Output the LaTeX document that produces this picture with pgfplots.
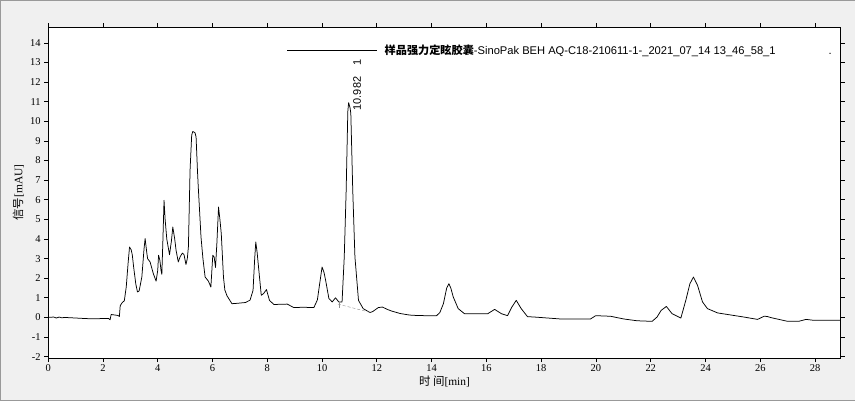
\documentclass[border=0pt]{standalone}
\usepackage{fontspec}
\setmainfont{Liberation Serif}
\setsansfont{Liberation Sans}
\newfontfamily\cjk{Noto Sans CJK SC}
\usepackage{pgfplots}
\pgfplotsset{compat=1.18}

\pgfplotstableread{
t s
0 0.0
0.2 0.02
0.3 -0.03
0.4 0.02
0.5 -0.02
0.6 0.0
1.0 -0.03
1.4 -0.06
1.8 -0.07
2.0 -0.05
2.2 -0.05
2.26 -0.12
2.3 0.15
2.45 0.12
2.55 0.1
2.6 0.05
2.63 0.6
2.7 0.75
2.78 0.85
2.85 1.55
2.92 2.8
2.97 3.59
3.03 3.45
3.07 3.2
3.12 2.57
3.2 1.7
3.26 1.3
3.32 1.35
3.42 2.06
3.5 3.5
3.54 4.02
3.6 3.3
3.63 3.0
3.72 2.83
3.84 2.23
3.94 1.85
4.0 2.4
4.03 3.17
4.08 2.9
4.12 2.4
4.15 2.2
4.19 4.0
4.23 5.97
4.27 5.0
4.33 4.0
4.43 3.2
4.5 3.9
4.55 4.61
4.62 4.0
4.67 3.42
4.75 2.83
4.82 3.1
4.9 3.28
4.96 3.2
5.03 2.7
5.08 3.0
5.12 3.6
5.18 7.5
5.24 9.3
5.28 9.48
5.36 9.42
5.4 9.2
5.45 7.5
5.48 6.65
5.58 4.1
5.65 3.0
5.73 2.06
5.85 1.85
5.94 1.55
6.01 3.17
6.06 3.08
6.11 2.55
6.16 3.8
6.22 5.63
6.27 5.0
6.32 4.27
6.4 2.06
6.45 1.4
6.53 1.1
6.71 0.7
6.9 0.72
7.2 0.76
7.37 0.88
7.48 1.38
7.54 3.0
7.58 3.85
7.63 3.3
7.68 2.57
7.78 1.13
7.86 1.21
7.97 1.42
8.08 0.87
8.24 0.66
8.73 0.68
8.97 0.5
9.3 0.52
9.7 0.5
9.83 0.9
9.9 1.6
10.0 2.57
10.07 2.3
10.13 1.89
10.25 0.96
10.37 0.79
10.49 1.0
10.61 0.79
10.73 0.79
10.81 3.08
10.88 6.48
10.94 10.5
10.97 10.95
11.02 10.7
11.05 10.4
11.12 6.48
11.2 3.08
11.33 0.87
11.5 0.45
11.75 0.25
11.85 0.3
12.05 0.5
12.2 0.53
12.4 0.4
12.53 0.33
12.85 0.2
13.2 0.12
13.45 0.1
13.76 0.09
14.18 0.09
14.3 0.25
14.43 0.7
14.55 1.5
14.63 1.72
14.7 1.5
14.79 1.04
14.97 0.45
15.2 0.19
16.05 0.19
16.3 0.41
16.55 0.19
16.77 0.09
16.93 0.53
17.09 0.87
17.27 0.45
17.5 0.04
17.75 0.02
18.72 -0.08
19.8 -0.08
19.99 0.09
20.53 0.06
21.02 -0.08
21.5 -0.17
22.05 -0.2
22.23 0.02
22.38 0.36
22.57 0.56
22.78 0.19
23.1 -0.03
23.28 0.87
23.43 1.72
23.56 2.06
23.71 1.63
23.89 0.79
24.07 0.45
24.44 0.23
25.4 0.02
25.9 -0.1
26.14 0.06
26.25 0.05
26.39 -0.01
27.0 -0.2
27.4 -0.2
27.67 -0.1
27.97 -0.15
28.94 -0.15
}\signal

\begin{document}
\begin{tikzpicture}[x=1bp,y=1bp]
\draw[draw=black!40, fill=black!6] (0,0) rectangle (855,400);
\begin{axis}[
    at={(48bp,42bp)}, anchor=south west,
    scale only axis,
    width=793bp, height=331bp,
    xmin=0, xmax=28.94,
    ymin=-2.07, ymax=14.8,
    xtick={0,2,...,28},
    ytick={-2,-1,...,14},
    tick align=outside,
    major tick length=4bp,
    tick style={black, line width=0.7bp},
    axis line style={black, line width=0.8bp},
    axis background/.style={fill=white},
    /pgf/number format/assume math mode=true,
    ticklabel style={font=\fontsize{10.5}{12}\selectfont},
    xticklabel style={yshift=1bp},
    xlabel={{\cjk 时 间}[min]},
    xlabel style={at={(axis description cs:0.5,-0.0695)}, anchor=center, font=\fontsize{11.5}{13}\selectfont},
    ylabel={{\cjk 信号}[mAU]},
    ylabel style={at={(axis description cs:-0.0378,0.5)}, anchor=center, font=\fontsize{11.5}{13}\selectfont},
    legend style={at={(rel axis cs:0.301,0.9305)}, anchor=west, draw=none, fill=none,
        inner sep=0pt, font=\sffamily\fontsize{11.2}{13}\selectfont},
    legend cell align=left,
    legend image code/.code={\draw[black, line width=0.8bp] (0bp,0bp) -- (90bp,0bp);},
]
\addplot[black, line width=0.75bp, line join=round] table[x=t, y=s] {\signal};
\addlegendentry{\hspace{5bp}{\cjk\bfseries 样品强力定眩胶囊}-SinoPak BEH AQ-C18-210611-1-\_2021\_07\_14 13\_46\_58\_1\hspace{53bp}.}
\addplot[black!45, thin, densely dashed, forget plot] coordinates {(10.58,0.68) (11.75,0.26)};
\addplot[black!45, thin, forget plot] coordinates {(10.62,0.78) (10.62,0.5)};
\node[rotate=90, anchor=west, font=\sffamily\fontsize{11}{13}\selectfont, inner sep=1bp]
    at (axis cs:11.28,10.5) {10.982\hspace{11bp}1};
\end{axis}
\end{tikzpicture}
\end{document}
